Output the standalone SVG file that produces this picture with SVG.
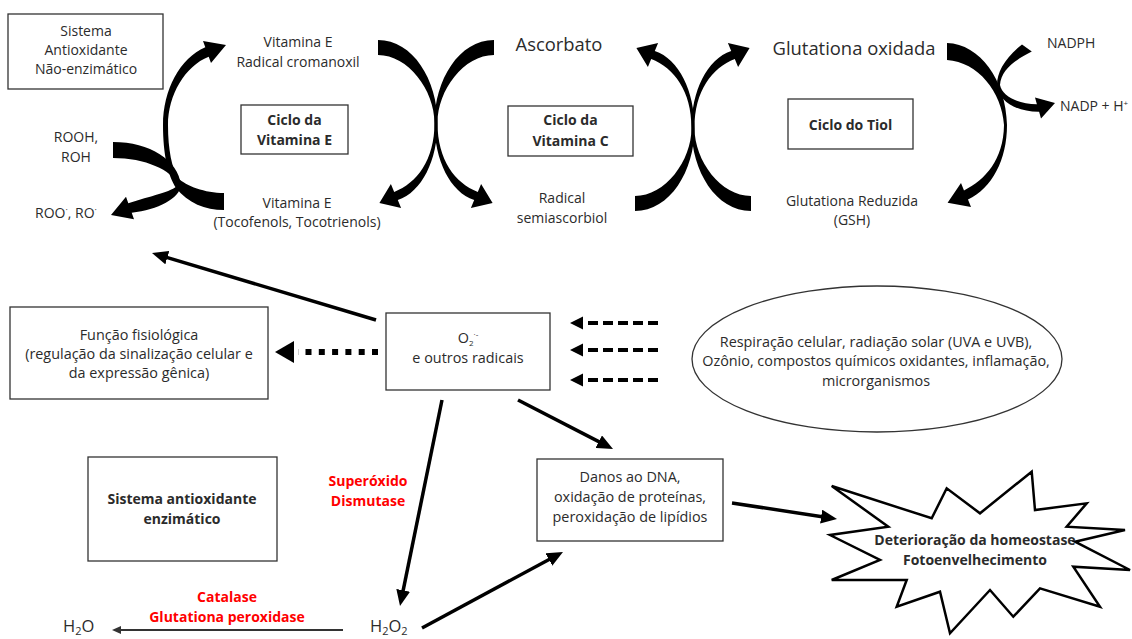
<svg xmlns="http://www.w3.org/2000/svg" xmlns:xlink="http://www.w3.org/1999/xlink" width="1132" height="639" viewBox="0 0 1132 639">
<style>
text{font-family:"Open Sans","Liberation Sans",sans-serif;fill:#2b2b2b;text-anchor:middle}
.t14{font-size:14px}
.t13{font-size:14.4px}
.t18{font-size:18.4px}
.b{font-weight:bold;font-size:14px}
.red{fill:#ff0000;font-weight:bold;font-size:14px}
.box{fill:#fff;stroke:#333;stroke-width:1.3}
.ar{stroke:#000;stroke-width:3.5;fill:none;marker-end:url(#ah)}
.blk{fill:#000}
</style>
<defs>
<marker id="ah" markerUnits="userSpaceOnUse" markerWidth="16" markerHeight="14" refX="6" refY="7" orient="auto"><path d="M0,0 L16,7 L0,14 Z" fill="#000"/></marker>
<marker id="ahs" markerUnits="userSpaceOnUse" markerWidth="9" markerHeight="8" refX="3" refY="4" orient="auto"><path d="M0,0 L9,4 L0,8 Z" fill="#333"/></marker>
<path id="xarcA" d="M378,40 C413,40 437.5,80 437.5,123 C437.5,160 455,183 477.8,191.9 L481.1,184 L492.6,203 L470.9,208 L474.2,200.1 C450,192 434.5,160 434.5,123 C434.5,90 408,55 378,55 Z"/>
<path id="xarcB" d="M494,40 C459,40 434.5,80 434.5,123 C434.5,160 417,183 394.2,191.9 L390.9,184 L379.4,203 L401.1,208 L397.8,200.1 C422,192 437.5,160 437.5,123 C437.5,90 464,55 494,55 Z"/>
</defs>
<rect width="1132" height="639" fill="#fff"/>

<g id="connectors">
  <!-- vitamin E cycle -->
  <path class="blk" d="M224,193 C205,193 186,186 178,178 C172,168 168,150 168,125 C168,95 185,66 208.7,56.7 L211,63 L226,45 L203,41 L205.3,47.3 C180,58 163,90 163,125 C163,155 168,175 176,188 C188,203 205,210 224,210 Z"/>
  <path class="blk" d="M113,142 C150,142 178,160 181,185 C180,198 158,210 131.7,212.7 L134,219.3 L111,215 L126,196.7 L128.3,203.3 C150,196 172,192 178,185 C172,170 145,158 113,158 Z"/>
  <!-- X between vitamin E and C -->
  <g class="blk"><use xlink:href="#xarcA"/><use xlink:href="#xarcB"/></g>
  <!-- X between vitamin C and thiol -->
  <g class="blk" transform="matrix(1,0,0,-1,257,251)"><use xlink:href="#xarcA"/><use xlink:href="#xarcB"/></g>
  <!-- thiol cycle -->
  <path class="blk" d="M947,43 C980,44 1006,80 1007,125 C1007,160 992,188 968,199.6 L971,207 L947.6,202.8 L961,183 L964,190.4 C985,180 1003.5,160 1004,125 C1002,92 978,62 947,60 Z"/>
  <path class="blk" d="M1022,44.4 C1005,58 997,72 997,85 C998,100 1015,112 1039.1,111.8 L1041,118.6 L1055,103 L1035,97.4 L1036.9,104.2 C1018,104 1002,96 1000,85 C1001,70 1015,60 1031.8,51.6 Z"/>
  <!-- solid arrows -->
  <line class="ar" x1="376" y1="320" x2="161.6" y2="255.9"/>
  <line class="ar" x1="442" y1="400" x2="402" y2="596.2"/>
  <line class="ar" x1="518" y1="400" x2="604.1" y2="444.4"/>
  <line class="ar" x1="422" y1="628" x2="554.2" y2="556.7"/>
  <line class="ar" x1="732" y1="503" x2="827.1" y2="517.5"/>
  <line x1="343" y1="630" x2="118" y2="630" stroke="#333" stroke-width="2" marker-end="url(#ahs)"/>
  <!-- dotted arrow -->
  <path d="M378,352 L298,352" stroke="#000" stroke-width="6" stroke-dasharray="6 7.3" fill="none"/>
  <polygon points="275,352 294,341 294,363" fill="#000"/>
  <!-- dashed arrows -->
  <g stroke="#000" stroke-width="4" stroke-dasharray="10 5" fill="none">
    <path d="M658,323 L581,323"/>
    <path d="M658,350 L581,350"/>
    <path d="M658,380 L581,380"/>
  </g>
  <g fill="#000">
    <polygon points="570,323 583,316.5 583,329.5"/>
    <polygon points="570,350 583,343.5 583,356.5"/>
    <polygon points="570,380 583,373.5 583,386.5"/>
  </g>
</g>

<g id="node-sistema-nao-enzimatico">
  <rect class="box" x="8" y="14" width="155" height="75"/>
  <text class="t14" x="86" y="36">Sistema</text>
  <text class="t14" x="86" y="55">Antioxidante</text>
  <text class="t14" x="86" y="74">Não-enzimático</text>
</g>
<g id="node-vite-radical">
  <text class="t14" x="298" y="47">Vitamina E</text>
  <text class="t14" x="298" y="67">Radical cromanoxil</text>
</g>
<g id="node-ciclo-vite">
  <rect class="box" x="241" y="105" width="107" height="49"/>
  <text class="b" x="294.5" y="125">Ciclo da</text>
  <text class="b" x="294.5" y="145">Vitamina E</text>
</g>
<g id="node-rooh">
  <text class="t14" x="76" y="142">ROOH,</text>
  <text class="t14" x="76" y="162">ROH</text>
</g>
<g id="node-roo">
  <text class="t14" x="35" y="218" style="text-anchor:start">ROO<tspan font-size="9" dy="-5">·</tspan><tspan dy="5">, RO</tspan><tspan font-size="9" dy="-5">·</tspan></text>
</g>
<g id="node-vite">
  <text class="t14" x="297" y="208">Vitamina E</text>
  <text class="t14" x="297" y="227">(Tocofenols, Tocotrienols)</text>
</g>
<g id="node-ascorbato">
  <text class="t18" x="559" y="51">Ascorbato</text>
</g>
<g id="node-ciclo-vitc">
  <rect class="box" x="508" y="106" width="125" height="50"/>
  <text class="b" x="570.5" y="125">Ciclo da</text>
  <text class="b" x="570.5" y="146">Vitamina C</text>
</g>
<g id="node-semiascorbiol">
  <text class="t14" x="562" y="203">Radical</text>
  <text class="t14" x="562" y="223">semiascorbiol</text>
</g>
<g id="node-gssg">
  <text class="t18" x="854" y="55">Glutationa oxidada</text>
</g>
<g id="node-ciclo-tiol">
  <rect class="box" x="788" y="99" width="125" height="50"/>
  <text class="b" x="850.5" y="130">Ciclo do Tiol</text>
</g>
<g id="node-gsh">
  <text class="t14" x="852" y="206">Glutationa Reduzida</text>
  <text class="t14" x="852" y="225">(GSH)</text>
</g>
<g id="node-nadph">
  <text class="t14" x="1047" y="48" style="text-anchor:start">NADPH</text>
</g>
<g id="node-nadp">
  <text class="t14" x="1060" y="111" style="text-anchor:start">NADP + H<tspan font-size="8" dy="-5">+</tspan></text>
</g>
<g id="node-funcao">
  <rect class="box" x="10" y="307" width="258" height="92"/>
  <text class="t13" x="139" y="340">Função fisiológica</text>
  <text class="t13" x="139" y="359">(regulação da sinalização celular e</text>
  <text class="t13" x="139" y="378">da expressão gênica)</text>
</g>
<g id="node-o2">
  <rect class="box" x="386" y="313" width="164" height="77"/>
  <text class="t13" x="468" y="343">O<tspan font-size="8" dy="3">2</tspan><tspan font-size="8" dy="-9">·-</tspan></text>
  <text class="t13" x="468" y="363">e outros radicais</text>
</g>
<g id="node-fontes">
  <ellipse cx="877" cy="359" rx="185" ry="73" fill="#fff" stroke="#333" stroke-width="1.3"/>
  <text class="t13" x="876" y="346.5">Respiração celular, radiação solar (UVA e UVB),</text>
  <text class="t13" x="876" y="366">Ozônio, compostos químicos oxidantes, inflamação,</text>
  <text class="t13" x="876" y="385.5">microrganismos</text>
</g>
<g id="node-sistema-enzimatico">
  <rect class="box" x="88" y="457" width="189" height="104"/>
  <text class="b" x="182" y="504">Sistema antioxidante</text>
  <text class="b" x="182" y="524">enzimático</text>
</g>
<g id="label-sod">
  <text class="red" x="368" y="486">Superóxido</text>
  <text class="red" x="368" y="506">Dismutase</text>
</g>
<g id="label-catalase">
  <text class="red" x="227" y="602">Catalase</text>
  <text class="red" x="227" y="622">Glutationa peroxidase</text>
</g>
<g id="node-h2o">
  <text x="63" y="632" style="text-anchor:start;font-size:16.5px">H<tspan font-size="11" dy="2.5">2</tspan><tspan dy="-2.5">O</tspan></text>
</g>
<g id="node-h2o2">
  <text x="370" y="632" style="text-anchor:start;font-size:16.5px">H<tspan font-size="11" dy="2.5">2</tspan><tspan dy="-2.5">O</tspan><tspan font-size="11" dy="2.5">2</tspan></text>
</g>
<g id="node-danos">
  <rect class="box" x="537" y="459" width="186" height="82"/>
  <text class="t13" x="630" y="482">Danos ao DNA,</text>
  <text class="t13" x="630" y="502">oxidação de proteínas,</text>
  <text class="t13" x="630" y="522">peroxidação de lipídios</text>
</g>
<g id="node-deterioracao">
  <polygon points="831.7,486 931.7,518.3 946.7,488.3 980,513.3 1031.7,471.7 1035,510 1086.7,503.3 1066.7,526.7 1125,530 1075,541.7 1130,570 1073.3,566.7 1100,606.7 1040,588.3 1013.3,616.7 990,590 950,633.3 940,591.7 896.7,606.7 906.7,580 831.7,580 880,560 830,535 888.3,526.7" fill="#fff" stroke="#000" stroke-width="2.5" stroke-linejoin="miter"/>
  <text class="b" x="975" y="545">Deterioração da homeostase</text>
  <text class="b" x="975" y="565">Fotoenvelhecimento</text>
</g>
</svg>
